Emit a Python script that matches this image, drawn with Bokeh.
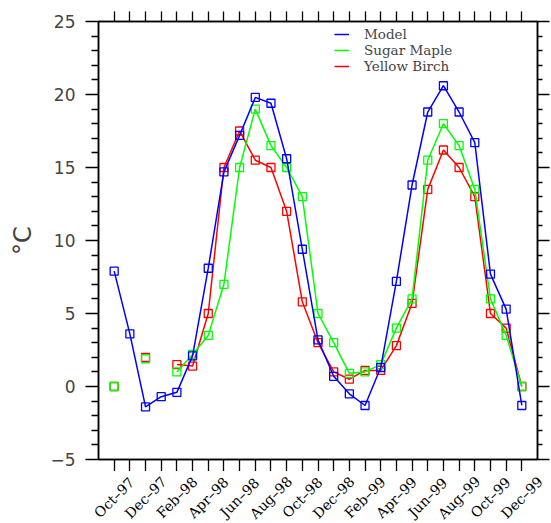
import math
import numpy as np
from bokeh.plotting import figure
from bokeh.layouts import column
from bokeh.models import (LinearAxis, FixedTicker, Range1d, Legend, LegendItem,
                          CustomLabelingPolicy, ColumnDataSource)
from bokeh.core.properties import value
from bokeh.embed import file_html
from bokeh.resources import INLINE

months = ["Oct-97", "Nov-97", "Dec-97", "Jan-98", "Feb-98", "Mar-98", "Apr-98",
          "May-98", "Jun-98", "Jul-98", "Aug-98", "Sep-98", "Oct-98", "Nov-98",
          "Dec-98", "Jan-99", "Feb-99", "Mar-99", "Apr-99", "May-99", "Jun-99",
          "Jul-99", "Aug-99", "Sep-99", "Oct-99", "Nov-99", "Dec-99"]

model = [7.9, 3.6, -1.4, -0.7, -0.4, 2.1, 8.1, 14.7, 17.2, 19.8, 19.4, 15.6, 9.4,
         3.2, 0.7, -0.5, -1.3, 1.3, 7.2, 13.8, 18.8, 20.6, 18.8, 16.7, 7.7, 5.3, -1.3]

sugar_maple = [0.0, np.nan, 1.9, np.nan, 1.0, 2.2, 3.5, 7.0, 15.0, 19.0, 16.5, 15.0,
               13.0, 5.0, 3.0, 0.9, 1.0, 1.5, 4.0, 6.0, 15.5, 18.0, 16.5, 13.5,
               6.0, 3.5, 0.0]

yellow_birch = [0.0, np.nan, 2.0, np.nan, 1.5, 1.4, 5.0, 15.0, 17.5, 15.5, 15.0, 12.0,
                5.8, 3.0, 1.0, 0.5, 1.1, 1.1, 2.8, 5.7, 13.5, 16.2, 15.0, 13.0,
                5.0, 4.0, 0.0]

y_major = [-5, 0, 5, 10, 15, 20, 25]
y_minor = [v for v in range(-5, 26) if v % 5 != 0]

idx = list(range(len(months)))
lab_idx = [i for i in idx if i % 2 == 0]

W = 550
LEFT, RIGHT = 98, 13
x0, x1 = -1, len(months)

p = figure(width=W, height=471, output_backend="svg", toolbar_location=None,
           x_range=Range1d(x0, x1), y_range=Range1d(-5, 25),
           x_axis_location=None, y_axis_location=None,
           min_border_left=LEFT, min_border_right=RIGHT, min_border_top=21,
           min_border_bottom=12)
p.grid.visible = False
p.outline_line_color = "black"
p.outline_line_width = 1.5
p.background_fill_color = "white"
p.border_fill_color = "white"

hide_all = CustomLabelingPolicy(code="""
const sel = [];
for (const i of indices) sel.push(i);
for (const i of sel) indices.unset(i);
return indices;
""")

def style(ax, labels=True):
    ax.axis_line_color = "black"
    ax.axis_line_width = 1.5
    ax.major_tick_line_color = "black"
    ax.major_tick_line_width = 1.3
    ax.minor_tick_line_color = "black"
    ax.minor_tick_line_width = 1.3
    ax.major_tick_in = 0
    ax.minor_tick_in = 0
    if not labels:
        ax.major_label_policy = hide_all
        ax.major_label_text_font_size = "0px"
        ax.major_label_standoff = 0

# left
la = LinearAxis(ticker=FixedTicker(ticks=y_major, minor_ticks=y_minor))
style(la)
la.major_tick_out = 13
la.minor_tick_out = 7
la.major_label_standoff = 10
la.major_label_text_font = "DejaVu Sans"
la.major_label_text_font_size = "17px"
la.major_label_overrides = {-5: "\u22125"}
la.axis_label = "\u00b0C"
la.axis_label_text_font = "DejaVu Sans"
la.axis_label_text_font_style = "normal"
la.axis_label_text_font_size = "24px"
la.axis_label_standoff = 10
p.add_layout(la, "left")

# right
ra = LinearAxis(ticker=FixedTicker(ticks=y_major, minor_ticks=y_minor))
style(ra, labels=False)
ra.major_tick_out = 12
ra.minor_tick_out = 5
p.add_layout(ra, "right")

# top
ta = LinearAxis(ticker=FixedTicker(ticks=idx))
style(ta, labels=False)
ta.major_tick_out = 10
ta.minor_tick_out = 0
p.add_layout(ta, "above")

# bottom (ticks every month)
ba = LinearAxis(ticker=FixedTicker(ticks=idx))
style(ba, labels=False)
ba.major_tick_out = 12
ba.minor_tick_out = 0
p.add_layout(ba, "below")

series = [("Yellow Birch", yellow_birch, "#ff0000"),
          ("Sugar Maple", sugar_maple, "#00ff00"),
          ("Model", model, "#0000ff")]
line_r = {}
for name, vals, col in series:
    lr = p.line(idx, vals, line_color=col, line_width=1.5)
    p.scatter(idx, vals, marker="square", size=8, fill_alpha=0,
              line_color=col, line_width=1.3)
    line_r[name] = lr

legend = Legend(items=[LegendItem(label="Model", renderers=[line_r["Model"]]),
                       LegendItem(label="Sugar Maple", renderers=[line_r["Sugar Maple"]]),
                       LegendItem(label="Yellow Birch", renderers=[line_r["Yellow Birch"]])],
                location=(236, 385), orientation="vertical",
                label_text_font="DejaVu Serif", label_text_font_size="13.5px",
                glyph_width=15, glyph_height=14, label_height=14, label_standoff=15,
                spacing=0, padding=0, margin=0,
                border_line_alpha=0, background_fill_alpha=0)
p.add_layout(legend)

# strip under the plot carrying the rotated month labels, sharing the x scale
lab_h = 52
q = figure(width=W, height=lab_h, output_backend="svg", toolbar_location=None,
           y_range=Range1d(0, lab_h),
           x_axis_location=None, y_axis_location=None)
can_unalign = "frame_align" in q.properties()
if can_unalign:
    px_per_unit = (W - LEFT - RIGHT) / (x1 - x0)
    q.frame_align = False
    p.frame_align = False
    q.x_range = Range1d(x0 - LEFT / px_per_unit, x1 + RIGHT / px_per_unit)
    q.min_border_left = 0
    q.min_border_right = 0
else:
    q.x_range = Range1d(x0, x1)
    q.min_border_left = LEFT
    q.min_border_right = RIGHT
q.min_border_top = 0
q.min_border_bottom = 0
q.grid.visible = False
q.outline_line_color = None
q.background_fill_color = "white"
q.border_fill_color = "white"
src = ColumnDataSource(dict(x=lab_idx, y=[26] * len(lab_idx),
                            text=[months[i].replace("-", "\u2013") for i in lab_idx]))
q.text(x="x", y="y", text="text", source=src, angle=math.pi / 4,
       text_align="center", text_baseline="middle",
       text_font=value("DejaVu Serif"), text_font_size="14px", text_color="black")

open("out.html", "w").write(file_html(column(p, q, spacing=0), INLINE))
